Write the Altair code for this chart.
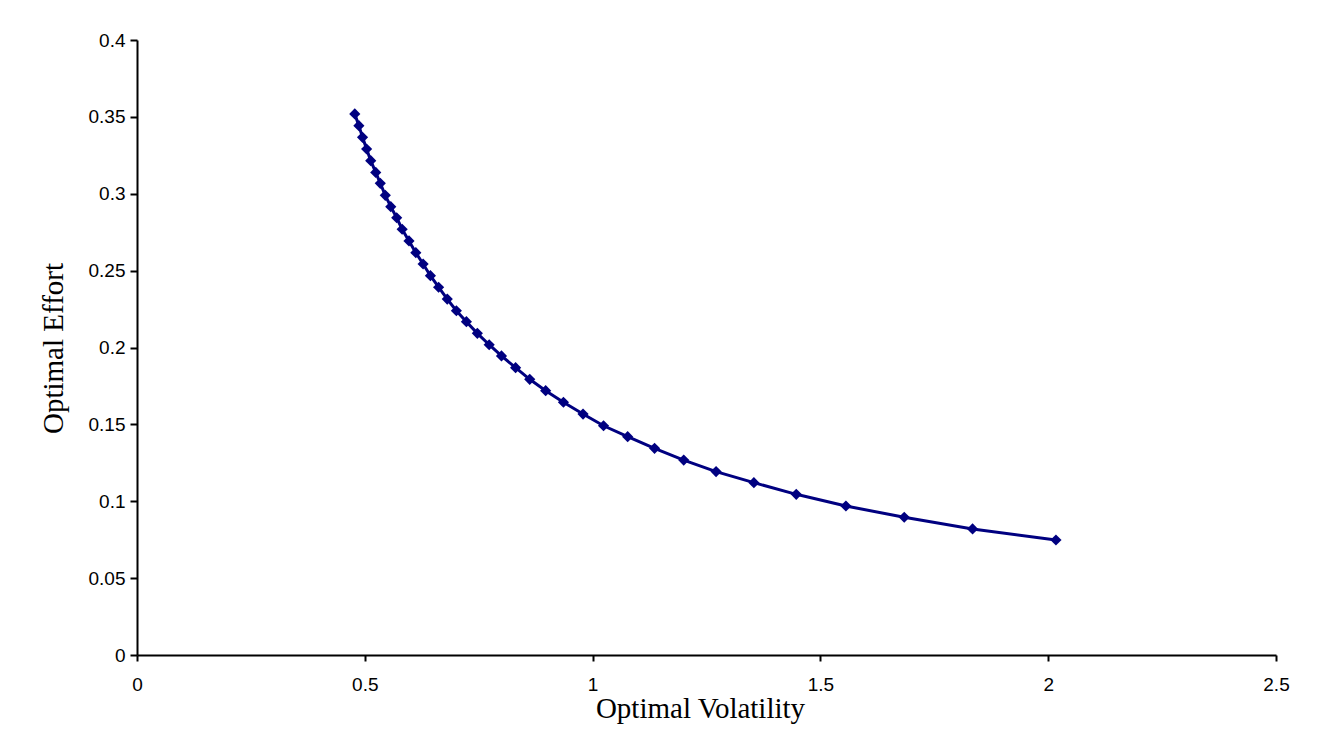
import altair as alt
import pandas as pd

volatility = [0.478, 0.487, 0.495, 0.504, 0.513, 0.524, 0.534, 0.545, 0.557, 0.570,
              0.582, 0.597, 0.612, 0.628, 0.644, 0.662, 0.681, 0.701, 0.723, 0.747,
              0.773, 0.800, 0.831, 0.862, 0.897, 0.936, 0.979, 1.024, 1.077, 1.136,
              1.200, 1.271, 1.354, 1.447, 1.556, 1.684, 1.834, 2.017]
effort = [0.3519, 0.3443, 0.3367, 0.3291, 0.3215, 0.3139, 0.3068, 0.2990, 0.2916, 0.2844,
          0.2769, 0.2693, 0.2617, 0.2543, 0.2467, 0.2392, 0.2315, 0.2239, 0.2168, 0.2092,
          0.2018, 0.1945, 0.1869, 0.1793, 0.1719, 0.1644, 0.1567, 0.1491, 0.1420, 0.1344,
          0.1268, 0.1193, 0.1121, 0.1045, 0.0969, 0.0896, 0.0820, 0.0748]
x_ticks = [0, 0.5, 1, 1.5, 2, 2.5]
y_ticks = [0, 0.05, 0.1, 0.15, 0.2, 0.25, 0.3, 0.35, 0.4]

df = pd.DataFrame({"vol": volatility, "eff": effort})

COLOR = "#000080"

x_enc = alt.X(
    "vol:Q",
    scale=alt.Scale(domain=[0, 2.5], nice=False, zero=False),
    axis=alt.Axis(
        title="Optimal Volatility",
        values=x_ticks,
        format="~g",
        grid=False,
        domainColor="black",
        domainWidth=2,
        tickColor="black",
        tickWidth=2,
        tickSize=6,
        labelFlush=False,
        labelOverlap=False,
        labelFont="Liberation Sans",
        labelFontSize=19,
        labelColor="black",
        labelPadding=14,
        titleFont="Liberation Serif",
        titleFontSize=29,
        titleFontWeight="normal",
        titleColor="black",
        titleX=563,
        titleY=62,
        titleBaseline="alphabetic",
        titleAlign="center",
    ),
)
y_enc = alt.Y(
    "eff:Q",
    scale=alt.Scale(domain=[0, 0.4], nice=False, zero=False),
    axis=alt.Axis(
        title="Optimal Effort",
        values=y_ticks,
        format="~g",
        grid=False,
        domainColor="black",
        domainWidth=2,
        tickColor="black",
        tickWidth=2,
        tickSize=7,
        labelFlush=False,
        labelOverlap=False,
        labelFont="Liberation Sans",
        labelFontSize=19,
        labelColor="black",
        labelPadding=5,
        titleFont="Liberation Serif",
        titleFontSize=29,
        titleFontWeight="normal",
        titleColor="black",
        titleX=-75,
        titleY=308,
        titleBaseline="alphabetic",
        titleAlign="center",
        titleAngle=270,
    ),
)

line = alt.Chart(df).mark_line(color=COLOR, strokeWidth=3).encode(x=x_enc, y=y_enc, order="vol:Q")
pts = alt.Chart(df).mark_point(shape="diamond", filled=True, color=COLOR, size=125, opacity=1).encode(x="vol:Q", y="eff:Q")

chart = (line + pts).properties(
    width=1139,
    height=615,
    autosize=alt.AutoSizeParams(type="none"),
    padding={"left": 137, "top": 40, "right": 47, "bottom": 89},
    background="white",
).configure_view(stroke=None)

chart.save("out.html", embed_options={"renderer": "svg", "actions": False})
